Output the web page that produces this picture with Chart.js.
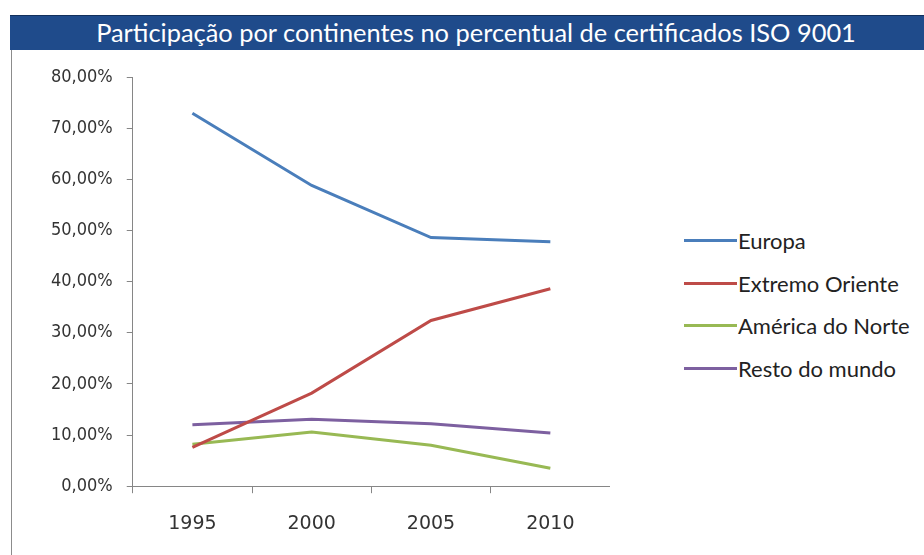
<!DOCTYPE html>
<html>
<head>
<meta charset="utf-8">
<script src="https://cdn.jsdelivr.net/npm/chart.js@4/dist/chart.umd.min.js"></script>
<style>
	html, body { margin: 0; padding: 0; background: #fff; }
	body { width: 924px; height: 555px; position: relative; overflow: hidden; }
	#titulo {
		position: absolute; left: 10px; top: 15px; width: 914px; height: 35px;
		background: #1f4b8b; border-top: 1px solid #12305c; box-sizing: border-box;
		color: #fff; font-family: Lato, sans-serif; font-size: 25.4px;
		line-height: 32px; text-align: center; padding-left: 18px; white-space: nowrap;
	}
	#borda { position: absolute; left: 11px; top: 50px; width: 1px; height: 505px; background: #8c8c8c; }
	#grafico { position: absolute; left: 12px; top: 50px; width: 598px; height: 505px; }
	#legenda { position: absolute; left: 684px; top: 219px; font-family: Lato, sans-serif; font-size: 22px; color: #222; }
	#legenda div { height: 42.7px; display: flex; align-items: center; white-space: nowrap; }
	#legenda span.linha { display: inline-block; width: 53px; height: 3px; margin-right: 1px; }
</style>
</head>
<body>
<div id="titulo">Participação por continentes no percentual de certificados ISO 9001</div>
<div id="borda"></div>
<div id="grafico"><canvas id="linhas"></canvas></div>
<div id="legenda"></div>
<script>
const anos = ["1995", "2000", "2005", "2010"];
const europa = [72.9, 58.8, 48.6, 47.8];
const extremoOriente = [7.6, 18.2, 32.4, 38.6];
const americaNorte = [8.2, 10.6, 8.0, 3.5];
const restoMundo = [12.0, 13.1, 12.2, 10.4];
const nomes = ["Europa", "Extremo Oriente", "América do Norte", "Resto do mundo"];
const cores = ["#4a7ebb", "#be4b48", "#98b954", "#7d60a0"];

const series = [europa, extremoOriente, americaNorte, restoMundo];

const ctx = document.getElementById("linhas");
const grafico = new Chart(ctx, {
	type: "line",
	data: {
		labels: anos,
		datasets: series.map((s, i) => ({
			label: nomes[i],
			data: s,
			borderColor: cores[i],
			backgroundColor: cores[i],
			borderWidth: 3,
			pointRadius: 0,
			tension: 0,
		})),
	},
	options: {
		animation: false,
		maintainAspectRatio: false,
		layout: {
			padding: { top: 27, left: 25, right: 0, bottom: 1 },
		},
		plugins: {
			legend: { display: false },
			tooltip: { enabled: false },
		},
		scales: {
			x: {
				offset: true,
				grid: { offset: true, drawOnChartArea: false, tickLength: 7, color: "#868686" },
				border: { color: "#868686", width: 1 },
				ticks: { padding: 19, color: "#333", font: { family: "'DejaVu Sans'", size: 19 } },
			},
			y: {
				min: 0,
				max: 80,
				grid: { drawOnChartArea: false, tickLength: 6, color: "#868686" },
				border: { color: "#868686", width: 1 },
				ticks: {
					stepSize: 10,
					padding: 14,
					color: "#333",
					font: { family: "'DejaVu Sans Condensed', 'DejaVu Sans'", size: 18 },
					callback: (v) => v.toFixed(2).replace(".", ",") + "%",
				},
			},
		},
	},
});

// legenda em html, montada a partir dos nomes e cores
const legenda = document.getElementById("legenda");
nomes.forEach((n, i) => {
	const item = document.createElement("div");
	const linha = document.createElement("span");
	linha.className = "linha";
	linha.style.background = cores[i];
	item.appendChild(linha);
	item.appendChild(document.createTextNode(n));
	legenda.appendChild(item);
});
</script>
</body>
</html>
